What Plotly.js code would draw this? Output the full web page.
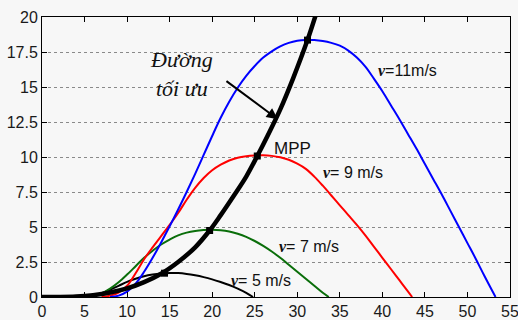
<!DOCTYPE html>
<html>
<head>
<meta charset="utf-8">
<script src="https://cdn.plot.ly/plotly-3.0.1.min.js"></script>
<style>html,body{margin:0;padding:0;background:#f7f7f7;}#chart{width:518px;height:320px;}</style>
</head>
<body>
<div id="chart"></div>
<script>
// wind speed v = 5 m/s
const v5X = [4.5, 5, 6, 7, 8, 9, 10, 11, 12, 13, 14, 15, 16, 17, 18, 19, 20, 21, 22, 23, 24, 24.8];
const v5Y = [0, 0.02, 0.1, 0.28, 0.52, 0.8, 1.08, 1.3, 1.48, 1.6, 1.68, 1.72, 1.71, 1.65, 1.55, 1.42, 1.26, 1.07, 0.86, 0.6, 0.3, 0];
// v = 7 m/s
const v7X = [5.5, 6, 7, 8, 9, 10, 11, 12, 13, 14, 15, 16, 17, 18, 19, 20, 21, 22, 23, 24, 25, 26, 27, 28, 29, 30, 31, 32, 33, 33.7];
const v7Y = [0, 0.05, 0.25, 0.6, 1.05, 1.6, 2.2, 2.8, 3.3, 3.75, 4.1, 4.4, 4.6, 4.72, 4.78, 4.8, 4.77, 4.68, 4.52, 4.3, 4.0, 3.65, 3.25, 2.8, 2.3, 1.8, 1.3, 0.8, 0.3, 0];
// v = 9 m/s
const v9X = [7, 8, 9, 10, 11, 12, 13, 14, 15, 16, 17, 18, 19, 20, 21, 22, 23, 24, 25, 26, 27, 28, 29, 30, 31, 32, 33, 34, 35, 36, 37, 38, 39, 40, 41, 42, 43, 43.5];
const v9Y = [0, 0.1, 0.32, 0.8, 1.7, 2.7, 3.55, 4.35, 5.15, 6.0, 6.95, 7.8, 8.5, 9.05, 9.45, 9.75, 9.95, 10.05, 10.1, 10.12, 10.08, 9.98, 9.8, 9.52, 9.15, 8.6, 7.95, 7.25, 6.55, 5.85, 5.15, 4.4, 3.6, 2.8, 2.0, 1.2, 0.4, 0];
// v = 11 m/s
const v11X = [8, 9, 10, 11, 12, 13, 14, 15, 16, 17, 18, 19, 20, 21, 22, 23, 24, 25, 26, 27, 28, 29, 30, 31, 32, 33, 34, 35, 36, 37, 38, 39, 40, 41, 42, 43, 44, 45, 46, 47, 48, 49, 50, 51, 52, 53.3];
const v11Y = [0, 0.1, 0.38, 0.95, 1.8, 2.8, 3.9, 5.05, 6.25, 7.5, 8.8, 10.15, 11.5, 12.8, 13.95, 14.95, 15.8, 16.5, 17.1, 17.55, 17.9, 18.15, 18.3, 18.36, 18.35, 18.28, 18.15, 17.95, 17.6, 17.1, 16.45, 15.6, 14.7, 13.7, 12.7, 11.65, 10.6, 9.5, 8.4, 7.3, 6.15, 5.0, 3.85, 2.7, 1.5, 0];
// optimal curve (Đường tối ưu)
const optX = [0, 2, 4, 6, 8, 10, 12, 14, 16, 18, 19.7, 21, 22.5, 24, 25.3, 26.5, 28, 29.5, 31.2, 32.2];
const optY = [0, 0, 0.03, 0.13, 0.32, 0.61, 1.06, 1.66, 2.5, 3.55, 4.75, 5.85, 7.2, 8.6, 10.07, 11.5, 13.4, 15.6, 18.35, 20.2];
// maximum power points
const mppX = [14.4, 19.7, 25.3, 31.2];
const mppY = [1.7, 4.75, 10.07, 18.35];
const xTicks = [0, 5, 10, 15, 20, 25, 30, 35, 40, 45, 50, 55];
const yTicks = [0, 2.5, 5, 7.5, 10, 12.5, 15, 17.5, 20];

const curve = (x, y, color, w) => ({x, y, type: 'scatter', mode: 'lines',
  line: {color, width: w, shape: 'spline', smoothing: 1}, hoverinfo: 'skip'});

const data = [
  curve(v5X, v5Y, '#000000', 2),
  curve(v7X, v7Y, '#0a6e0a', 2),
  curve(v9X, v9Y, '#ff0000', 2),
  curve(v11X, v11Y, '#0000ff', 2),
  curve(optX, optY, '#000000', 4.5),
  {x: mppX, y: mppY, type: 'scatter', mode: 'markers',
   marker: {symbol: 'square', size: 7, color: '#000'}, hoverinfo: 'skip'}
];

const nu = "<span style='font-family:Liberation Serif'><b><i>ν</i></b></span>";
const lab = (x, y, text, size) => ({x, y, xref: 'x', yref: 'y', text, showarrow: false,
  font: {family: 'Liberation Sans, Arial', size: size || 16, color: '#111'}});

const layout = {
  width: 518, height: 320,
  margin: {l: 42, r: 8, t: 17, b: 23},
  paper_bgcolor: '#f7f7f7', plot_bgcolor: '#f7f7f7',
  showlegend: false,
  font: {family: 'Liberation Sans, Arial', size: 16, color: '#1a1a1a'},
  xaxis: {range: [0, 55], tickvals: xTicks, ticktext: xTicks.map(String),
    ticks: 'inside', ticklen: 5, tickcolor: '#000', showline: true, linecolor: '#000', linewidth: 1,
    mirror: 'allticks', showgrid: false, zeroline: false, tickfont: {size: 16},
    ticklabeloverflow: 'allow'},
  yaxis: {range: [0, 20], tickvals: yTicks, ticktext: yTicks.map(String),
    ticks: 'inside', ticklen: 5, tickcolor: '#000', showline: true, linecolor: '#000', linewidth: 1,
    mirror: 'allticks', showgrid: true, gridcolor: '#8a8a8a', griddash: 'dot', gridwidth: 1,
    zeroline: false, tickfont: {size: 16}, ticklabeloverflow: 'allow'},
  annotations: [
    {x: 16.4, y: 15.95, xref: 'x', yref: 'y', text: '<i>Đường<br>tối ưu</i>', showarrow: false,
     font: {family: 'Liberation Serif', size: 22, color: '#111'}},
    {x: 27.7, y: 12.7, xref: 'x', yref: 'y', ax: 21.5, ay: 15.5, axref: 'x', ayref: 'y',
     text: '', showarrow: true, arrowhead: 2, arrowsize: 1.1, arrowwidth: 2, arrowcolor: '#000'},
    lab(29.4, 10.6, 'MPP', 17),
    lab(42.9, 16.2, nu + '=11m/s'),
    lab(36.5, 8.9, nu + '= 9 m/s'),
    lab(31.4, 3.6, nu + '= 7 m/s'),
    lab(25.7, 1.2, nu + '= 5 m/s')
  ]
};

Plotly.newPlot('chart', data, layout, {staticPlot: true, displayModeBar: false});
</script>
</body>
</html>
